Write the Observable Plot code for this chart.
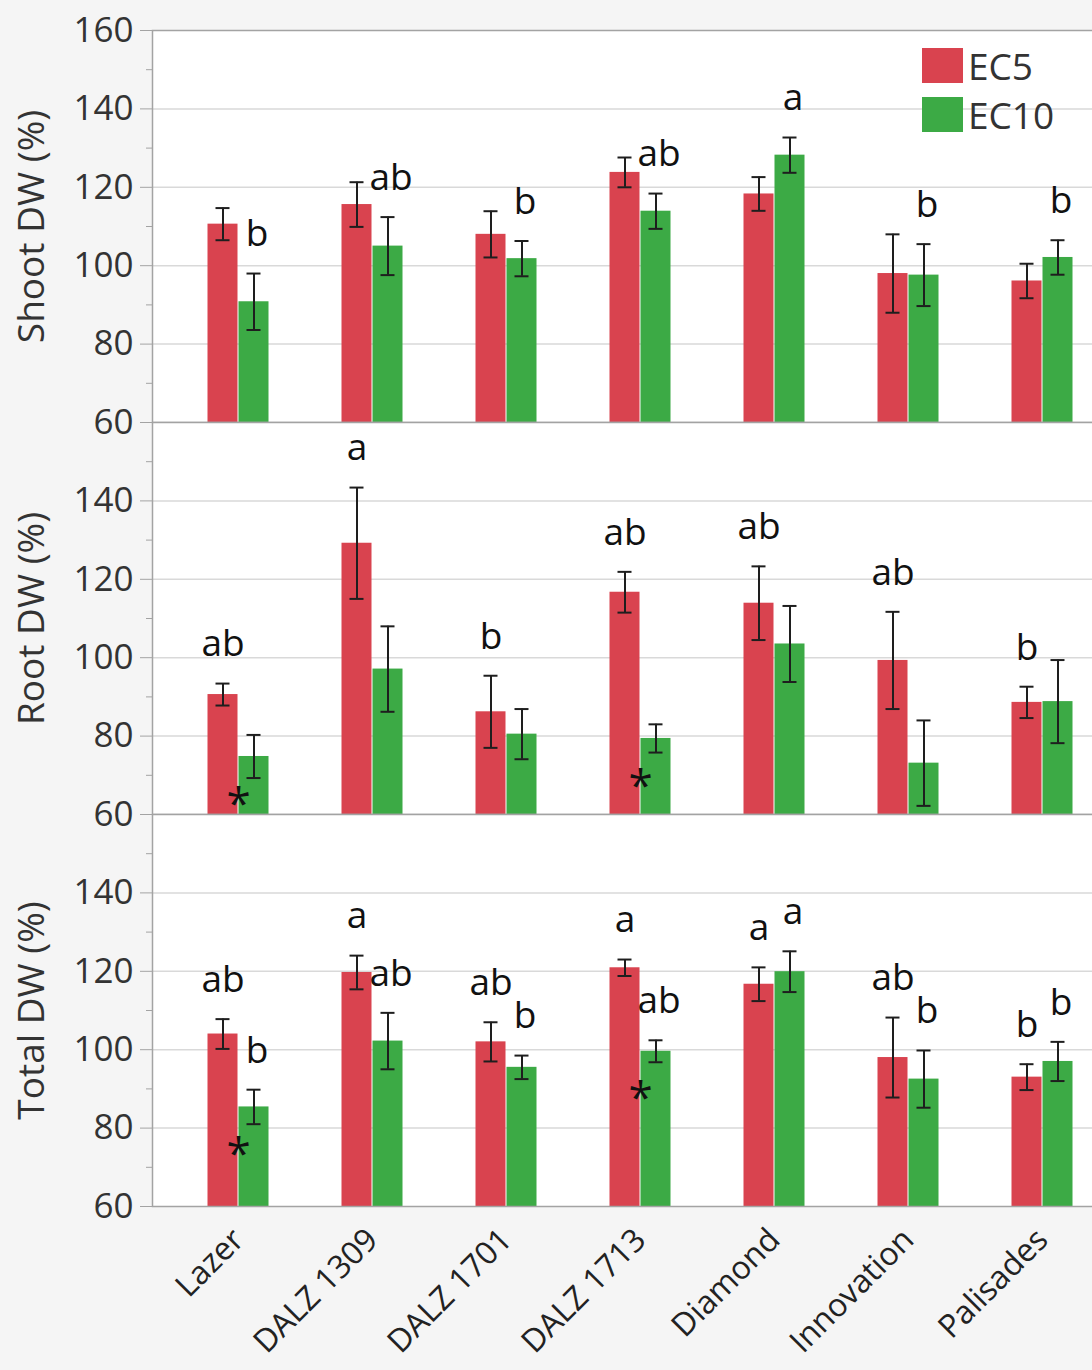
<!DOCTYPE html>
<html>
<head>
<meta charset="utf-8">
<script src="https://cdn.jsdelivr.net/npm/d3@7"></script>
<script src="https://cdn.jsdelivr.net/npm/@observablehq/plot@0.6"></script>
<style>
  html, body { margin: 0; padding: 0; background: #f5f5f5; }
  #chart { position: relative; width: 1092px; height: 1370px; overflow: hidden; font-family: "Open Sans", sans-serif; }
  #chart svg { display: block; overflow: visible; max-width: none !important; }
  .legend { position: absolute; left: 922px; top: 41px; color: #333; font-size: 37px; line-height: 1; }
  .legend .row { display: flex; align-items: center; height: 49px; }
  .legend .sw { display: inline-block; width: 41px; height: 35px; margin-right: 5px; }
</style>
</head>
<body>
<div id="chart"></div>
<script>
// Cultivars and salinity treatments
const cultivars = ["Lazer", "DALZ 1309", "DALZ 1701", "DALZ 1713", "Diamond", "Innovation", "Palisades"];
const treatments = ["EC5", "EC10"];
const treatmentColors = ["#d9434f", "#3caa45"];

// Shoot dry weight (% of control), mean and standard error
const shootEC5 = [110.6, 115.6, 108.0, 123.8, 118.3, 98.0, 96.1];
const shootEC5se = [4.1, 5.7, 5.9, 3.8, 4.3, 10.0, 4.4];
const shootEC10 = [90.8, 105.0, 101.8, 113.9, 128.2, 97.6, 102.1];
const shootEC10se = [7.2, 7.4, 4.5, 4.5, 4.5, 7.9, 4.4];
const shootEC5Letters = ["", "", "", "", "", "", ""];
const shootEC10Letters = ["b", "ab", "b", "ab", "a", "b", "b"];
const shootStars = ["", "", "", "", "", "", ""];

// Root dry weight (% of control)
const rootEC5 = [90.6, 129.2, 86.2, 116.7, 113.9, 99.3, 88.6];
const rootEC5se = [2.8, 14.2, 9.2, 5.2, 9.4, 12.4, 4.0];
const rootEC10 = [74.8, 97.1, 80.5, 79.4, 103.5, 73.1, 88.8];
const rootEC10se = [5.5, 10.9, 6.4, 3.6, 9.7, 10.9, 10.6];
const rootEC5Letters = ["ab", "a", "b", "ab", "ab", "ab", "b"];
const rootEC10Letters = ["", "", "", "", "", "", ""];
const rootStars = ["*", "", "", "*", "", "", ""];

// Total dry weight (% of control)
const totalEC5 = [104.0, 119.7, 102.0, 120.9, 116.7, 98.0, 93.0];
const totalEC5se = [3.8, 4.3, 5.0, 2.1, 4.3, 10.2, 3.3];
const totalEC10 = [85.4, 102.2, 95.5, 99.6, 119.9, 92.5, 97.0];
const totalEC10se = [4.4, 7.2, 3.0, 2.8, 5.2, 7.3, 5.0];
const totalEC5Letters = ["ab", "a", "ab", "a", "a", "ab", "b"];
const totalEC10Letters = ["b", "ab", "b", "ab", "a", "b", "b"];
const totalStars = ["*", "", "", "*", "", "", ""];

// Axis ticks
const majorTicks = [60, 80, 100, 120, 140];
const minorTicks = [70, 90, 110, 130, 150];
const gridTicks = [80, 100, 120, 140];

// Layout
const W = 1128, ML = 152, PANEL_H = 392;
const OUTER = 0.115;
const STEP = (W - ML) / (cultivars.length + 2 * OUTER);
const HALF = STEP / 2, BAR = 31, CAP = 15;
const INK = "#1e1e1e", AXIS = "#a3a3a3", TEXT = "#333";

function panel({title, ec5, ec5se, ec10, ec10se, l5, l10, stars, marginTop, marginBottom, showTop, showX}) {
  const rows = cultivars.map((c, i) => ({
    c, ec5: ec5[i], ec5se: ec5se[i], ec10: ec10[i], ec10se: ec10se[i],
    l5: l5[i], l10: l10[i], star: stars[i]
  }));
  const errMarks = (key, seKey, side) => {
    const dx = side * BAR / 2;
    const inL = HALF + dx - CAP / 2, inR = HALF - dx - CAP / 2;
    return [
      Plot.ruleX(rows, {x: "c", y1: d => d[key] - d[seKey], y2: d => d[key] + d[seKey], dx, stroke: INK, strokeWidth: 2}),
      Plot.tickY(rows, {x: "c", y: d => d[key] + d[seKey], insetLeft: inL, insetRight: inR, stroke: INK, strokeWidth: 2}),
      Plot.tickY(rows, {x: "c", y: d => d[key] - d[seKey], insetLeft: inL, insetRight: inR, stroke: INK, strokeWidth: 2})
    ];
  };
  const yTicks = showTop ? [...majorTicks, 160] : majorTicks;
  return Plot.plot({
    width: W,
    height: marginTop + PANEL_H + marginBottom,
    marginLeft: ML, marginRight: 0, marginTop, marginBottom,
    style: {fontFamily: "'Open Sans', sans-serif", background: "transparent", maxWidth: "none", overflow: "visible"},
    x: {domain: cultivars, paddingInner: 0, paddingOuter: OUTER, axis: null, label: null},
    y: {domain: [60, 160], axis: null, label: null},
    marks: [
      Plot.frame({fill: "white"}),
      Plot.gridY(gridTicks, {stroke: "#d9d9d9", strokeOpacity: 1, strokeWidth: 1.5}),
      Plot.barY(rows, {x: "c", y: "ec5", fill: treatmentColors[0], insetLeft: HALF - BAR, insetRight: HALF, clip: true}),
      Plot.barY(rows, {x: "c", y: "ec10", fill: treatmentColors[1], insetLeft: HALF, insetRight: HALF - BAR, clip: true}),
      ...errMarks("ec5", "ec5se", -1),
      ...errMarks("ec10", "ec10se", 1),
      Plot.frame({stroke: AXIS, strokeWidth: 1.5}),
      Plot.axisY({ticks: yTicks, tickSize: 12, tickPadding: 7, fontSize: 35, stroke: AXIS, fill: TEXT, label: null}),
      Plot.axisY({ticks: minorTicks, tickSize: 6, tickFormat: () => "", stroke: AXIS, label: null}),
      Plot.text([title], {frameAnchor: "left", textAnchor: "middle", rotate: -90, dx: -120, fontSize: 37, fill: TEXT}),
      Plot.text(rows.filter(d => d.l5), {x: "c", y: d => d.ec5 + d.ec5se, text: "l5", dx: -BAR / 2, dy: -39, fontSize: 37, fill: "#111"}),
      Plot.text(rows.filter(d => d.l10), {x: "c", y: d => d.ec10 + d.ec10se, text: "l10", dx: BAR / 2 + 3, dy: -39, fontSize: 37, fill: "#111"}),
      Plot.text(rows.filter(d => d.star), {x: "c", y: "ec10", text: "star", dy: 48, fontSize: 44, fill: "#111"}),
      showX ? Plot.axisX({tickRotate: -45, tickSize: 0, tickPadding: 28, fontSize: 32, fill: "#222", label: null}) : null
    ]
  });
}

const chart = document.getElementById("chart");
chart.append(
  panel({title: "Shoot DW (%)", ec5: shootEC5, ec5se: shootEC5se, ec10: shootEC10, ec10se: shootEC10se,
         l5: shootEC5Letters, l10: shootEC10Letters, stars: shootStars, marginTop: 30, marginBottom: 0, showTop: true}),
  panel({title: "Root DW (%)", ec5: rootEC5, ec5se: rootEC5se, ec10: rootEC10, ec10se: rootEC10se,
         l5: rootEC5Letters, l10: rootEC10Letters, stars: rootStars, marginTop: 0, marginBottom: 0}),
  panel({title: "Total DW (%)", ec5: totalEC5, ec5se: totalEC5se, ec10: totalEC10, ec10se: totalEC10se,
         l5: totalEC5Letters, l10: totalEC10Letters, stars: totalStars, marginTop: 0, marginBottom: 163, showX: true})
);

// Legend for the two treatments
const legend = document.createElement("div");
legend.className = "legend";
treatments.forEach((t, i) => {
  const row = document.createElement("div");
  row.className = "row";
  const sw = document.createElement("span");
  sw.className = "sw";
  sw.style.background = treatmentColors[i];
  row.append(sw, document.createTextNode(t));
  legend.append(row);
});
chart.append(legend);
</script>
</body>
</html>
